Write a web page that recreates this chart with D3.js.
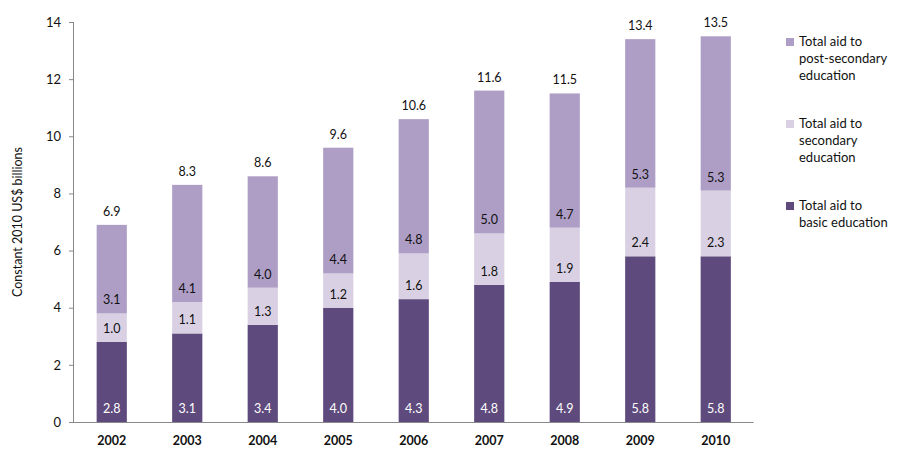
<!DOCTYPE html>
<html><head><meta charset="utf-8">
<script src="https://cdn.jsdelivr.net/npm/d3@7"></script>
<style>
body{margin:0;background:#fff;}
text{font-family:"Lato","Open Sans",sans-serif;}
</style></head>
<body><svg id="c" width="910" height="468"></svg>
<script>
const years = ["2002","2003","2004","2005","2006","2007","2008","2009","2010"];
const basic = [2.8,3.1,3.4,4.0,4.3,4.8,4.9,5.8,5.8];
const secondary = [1.0,1.1,1.3,1.2,1.6,1.8,1.9,2.4,2.3];
const postSecondary = [3.1,4.1,4.0,4.4,4.8,5.0,4.7,5.3,5.3];
const totals = [6.9,8.3,8.6,9.6,10.6,11.6,11.5,13.4,13.5];
const yTicks = [0,2,4,6,8,10,12,14];
const seriesNames = ["Total aid to basic education","Total aid to secondary education","Total aid to post-secondary education"];

const colors = ["#5e4a7c","#d9d1e3","#ae9ec6"];
const labelColors = ["#ffffff","#111111","#111111"];
const series = [basic, secondary, postSecondary];

const svg = d3.select("#c");
const x = d3.scaleBand().domain(years).range([74,753.5]).paddingInner(0.6).paddingOuter(0.3);
const y = d3.scaleLinear().domain([0,14]).range([422,22]);

// stacked data
const rows = years.map((yr,i)=>({year:yr, s0:basic[i], s1:secondary[i], s2:postSecondary[i]}));
const stack = d3.stack().keys(["s0","s1","s2"])(rows);
// top layer ends at the (unrounded-consistent) total
stack[2].forEach((d,i)=>{ d[1] = totals[i]; });

stack.forEach((layer,k)=>{
  const g = svg.append("g");
  g.selectAll("rect").data(layer).join("rect")
    .attr("x", d=>x(d.data.year))
    .attr("width", x.bandwidth())
    .attr("y", d=>y(d[1]))
    .attr("height", d=>y(d[0])-y(d[1]))
    .attr("fill", colors[k]);
  g.selectAll("text").data(layer).join("text")
    .attr("x", d=>x(d.data.year)+x.bandwidth()/2)
    .attr("y", d=>y(d[0])-9)
    .attr("text-anchor","middle")
    .attr("font-size","12.5px")
    .attr("fill", labelColors[k])
    .text((d,i)=>series[k][i].toFixed(1));
});

// totals
svg.append("g").selectAll("text").data(years).join("text")
  .attr("x", d=>x(d)+x.bandwidth()/2)
  .attr("y", (d,i)=>y(totals[i])-9)
  .attr("text-anchor","middle")
  .attr("font-size","12.5px")
  .attr("fill","#111")
  .text((d,i)=>totals[i].toFixed(1));

// y axis
const ya = svg.append("g").attr("transform","translate(74,0)")
  .call(d3.axisLeft(y).tickValues(yTicks).tickSize(5).tickPadding(8).tickFormat(d3.format("d")));
ya.select(".domain").attr("stroke","#888").attr("d","M-0.5,22V422.5");
ya.selectAll(".tick line").attr("stroke","#888").attr("x1",-5).attr("x2",0);
ya.selectAll(".tick text").attr("font-size","13px").attr("fill","#111").attr("font-family","Lato,'Open Sans',sans-serif");

// x axis
const xa = svg.append("g").attr("transform","translate(0,422)")
  .call(d3.axisBottom(x).tickSize(0).tickPadding(14));
xa.select(".domain").attr("stroke","#888").attr("d","M74,0.5H753.5");
xa.selectAll(".tick text").attr("font-size","12.5px").attr("font-weight","bold").attr("fill","#111").attr("font-family","Lato,'Open Sans',sans-serif");

// y label
svg.append("text")
  .attr("transform","translate(22,222) rotate(-90)")
  .attr("text-anchor","middle")
  .attr("font-size","12.5px")
  .attr("fill","#111")
  .text("Constant 2010 US$ billions");

// legend
const legend = [
  {c:colors[2], lines:["Total aid to","post-secondary","education"], y:46},
  {c:colors[1], lines:["Total aid to","secondary","education"], y:128},
  {c:colors[0], lines:["Total aid to","basic education"], y:210}
];
const lg = svg.append("g");
legend.forEach(l=>{
  lg.append("rect").attr("x",786).attr("y",l.y-8).attr("width",8).attr("height",8).attr("fill",l.c);
  const t = lg.append("text").attr("x",799).attr("y",l.y).attr("font-size","13px").attr("fill","#111");
  l.lines.forEach((ln,i)=>t.append("tspan").attr("x",799).attr("dy",i===0?0:17).text(ln));
});
</script></body></html>
